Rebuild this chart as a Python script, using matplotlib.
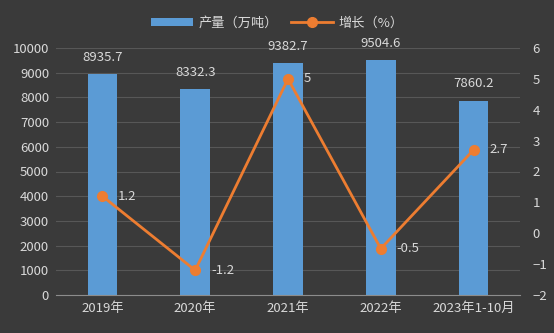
import matplotlib.pyplot as plt
import numpy as np

plt.rcParams['font.family'] = ['Noto Sans CJK SC', 'DejaVu Sans']

categories = ["2019年", "2020年", "2021年", "2022年", "2023年1-10月"]
output = [8935.7, 8332.3, 9382.7, 9504.6, 7860.2]
growth = [1.2, -1.2, 5, -0.5, 2.7]

bg = "#3a3a3a"
txt = "#d9d9d9"
grid_c = "#575757"
fs = 9.5

fig = plt.figure(figsize=(5.54, 3.33), dpi=100, facecolor=bg)
ax = fig.add_axes([56 / 554, 38 / 333, 464 / 554, 247 / 333])
ax.set_facecolor(bg)
x = np.arange(len(categories))

bars = ax.bar(x, output, width=0.32, color="#5b9bd5", zorder=2, label="产量（万吨）")
ax.set_ylim(0, 10000)
ax.set_yticks(range(0, 10001, 1000))
ax.set_xlim(-0.5, len(categories) - 0.5)
ax.set_xticks(x)
ax.set_xticklabels(categories)
ax.grid(axis="y", color=grid_c, linewidth=0.8, zorder=0)
for s in ["top", "right", "left"]:
    ax.spines[s].set_visible(False)
ax.spines["bottom"].set_color("#8c8c8c")
ax.tick_params(colors=txt, labelsize=fs, length=0)
ax.tick_params(axis="x", pad=5)
ax.tick_params(axis="y", pad=5)

for xi, v in zip(x, output):
    ax.text(xi, v + 420, f"{v}", ha="center", va="bottom", color=txt, fontsize=fs)

ax2 = ax.twinx()
ax2.plot(x, growth, color="#ed7d31", linewidth=2.0, marker="o", markersize=7,
         zorder=3, label="增长（%）")
ax2.set_ylim(-2, 6)
ax2.set_yticks(range(-2, 7))
for s in ax2.spines.values():
    s.set_visible(False)
ax2.tick_params(colors=txt, labelsize=fs, length=0, pad=9)
for xi, v in zip(x, growth):
    lab = f"{v:g}"
    ax2.text(xi + 0.17, v, lab, ha="left", va="center", color=txt, fontsize=fs)

h1, l1 = ax.get_legend_handles_labels()
h2, l2 = ax2.get_legend_handles_labels()
leg = fig.legend(h1 + h2, l1 + l2, loc="upper center", bbox_to_anchor=(0.5, 0.985),
                 ncol=2, frameon=False, fontsize=fs, handlelength=3.2,
                 handleheight=0.6, columnspacing=1.0, handletextpad=0.4)
for t in leg.get_texts():
    t.set_color(txt)

fig.savefig("out.png", dpi=100, facecolor=bg)
